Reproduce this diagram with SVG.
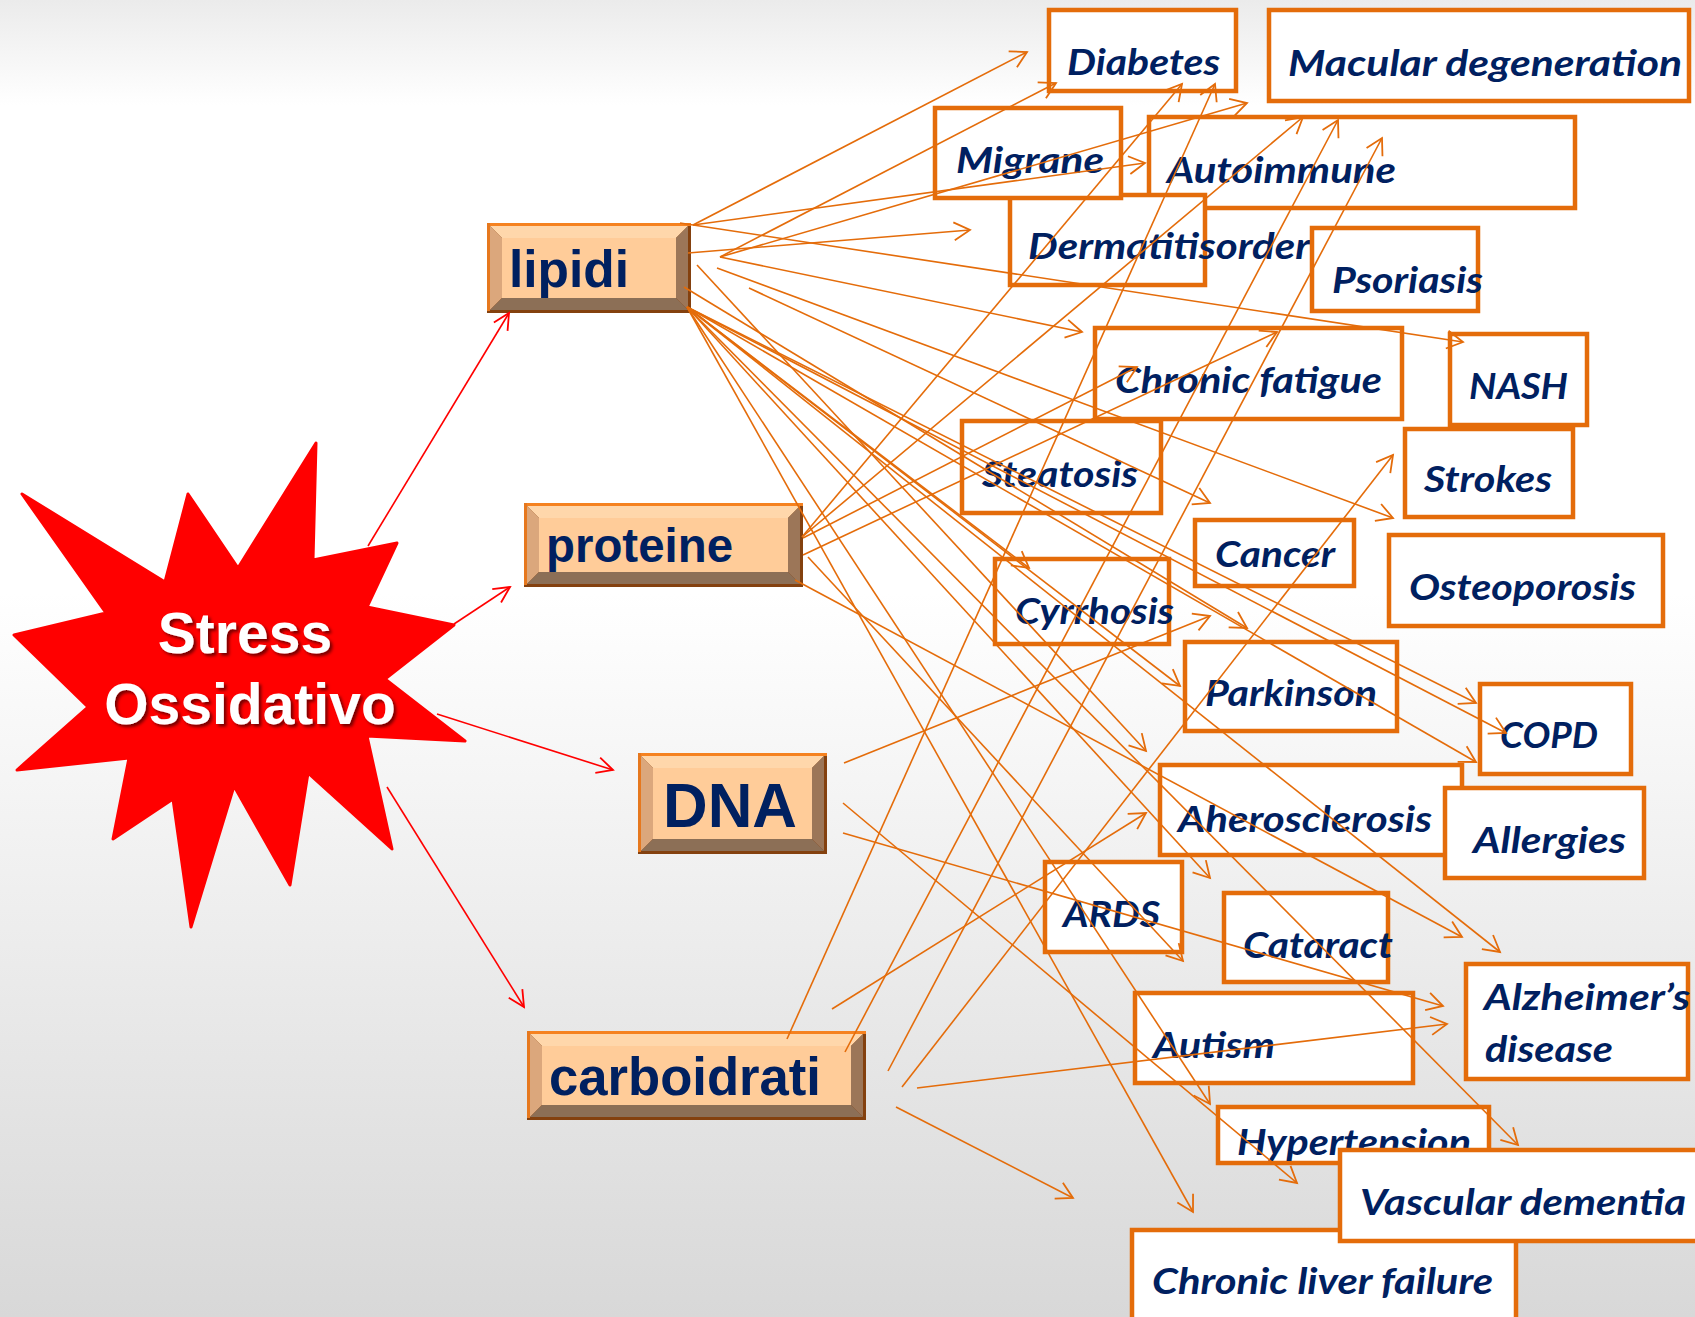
<svg xmlns="http://www.w3.org/2000/svg" width="1695" height="1317" viewBox="0 0 1695 1317">
<defs>
<linearGradient id="bg" x1="0" y1="0" x2="0" y2="1">
<stop offset="0" stop-color="#ebebeb"/>
<stop offset="0.08" stop-color="#ffffff"/>
<stop offset="0.45" stop-color="#ffffff"/>
<stop offset="1" stop-color="#d8d8d8"/>
</linearGradient>
<filter id="sh" x="-10%" y="-10%" width="130%" height="140%">
<feDropShadow dx="2.5" dy="2.5" stdDeviation="1.5" flood-color="#000000" flood-opacity="0.55"/>
</filter>
<marker id="ao" viewBox="-20 -12 24 24" refX="0" refY="0" markerWidth="24" markerHeight="24" markerUnits="userSpaceOnUse" orient="auto">
<path d="M-16,-9 L0,0 L-16,9" fill="none" stroke="#e46c0a" stroke-width="1.8"/>
</marker>
<marker id="ar" viewBox="-20 -12 24 24" refX="0" refY="0" markerWidth="24" markerHeight="24" markerUnits="userSpaceOnUse" orient="auto">
<path d="M-16,-8 L0,0 L-16,8" fill="none" stroke="#ff0000" stroke-width="1.8"/>
</marker>
<style>
.dbox rect{fill:#ffffff;stroke:#e46c0a;stroke-width:4.5}
.dt{font-family:Lato,"Open Sans","DejaVu Sans",sans-serif;font-weight:700;font-style:italic;font-size:37px;fill:#002060}
.st{font-family:"Liberation Sans",Arial,sans-serif;font-weight:700;fill:#002060}
.star-t{font-family:"Liberation Sans",Arial,sans-serif;font-weight:700;font-size:57px;fill:#ffffff;text-anchor:middle}
.bo{fill:#84410f}
.bt{fill:#f58220}
.bl{fill:#e6781e}
.vt{fill:#ffd7ab}
.vl{fill:#dba77c}
.vr{fill:#9c7658}
.vb{fill:#8c6f56}
.fc{fill:#ffcc99}
.conn line{stroke:#e46c0a;stroke-width:1.6;marker-end:url(#ao)}
.red line{stroke:#ff0000;stroke-width:1.6;marker-end:url(#ar)}
</style>
</defs>
<rect x="0" y="0" width="1695" height="1317" fill="url(#bg)"/>

<g id="stress">
<polygon points="316,443 313,560 397,543 367,607 454,625 385,679 465,741 367,736 392,849 308,773 290,885 234,786 191,927 173,799 113,839 129,758 17,770 88,707 14,635 106,613 22,494 165,582 188,494 238,568" fill="#ff0000" stroke="#ff0000" stroke-width="3" stroke-linejoin="round"/>
<g filter="url(#sh)">
<text class="star-t" x="245" y="653">Stress</text>
<text class="star-t" x="250" y="724">Ossidativo</text>
</g>
</g>

<g id="lipidi" transform="translate(487,223)">
<rect class="bo" x="0" y="0" width="204" height="90"/>
<rect class="bt" x="0" y="0" width="204" height="3"/>
<rect class="bl" x="0" y="0" width="3" height="88"/>
<polygon class="vt" points="3,3 201,3 189,15 15,15"/>
<polygon class="vl" points="3,3 15,15 15,75 3,87"/>
<polygon class="vr" points="201,3 201,87 189,75 189,15"/>
<polygon class="vb" points="3,87 201,87 189,75 15,75"/>
<rect class="fc" x="15" y="15" width="174" height="60"/>
<text class="st" x="22" y="64" font-size="52" textLength="120" lengthAdjust="spacingAndGlyphs">lipidi</text>
</g>

<g id="proteine" transform="translate(524,503)">
<rect class="bo" x="0" y="0" width="279" height="84"/>
<rect class="bt" x="0" y="0" width="279" height="3"/>
<rect class="bl" x="0" y="0" width="3" height="82"/>
<polygon class="vt" points="3,3 276,3 264,15 15,15"/>
<polygon class="vl" points="3,3 15,15 15,69 3,81"/>
<polygon class="vr" points="276,3 276,81 264,69 264,15"/>
<polygon class="vb" points="3,81 276,81 264,69 15,69"/>
<rect class="fc" x="15" y="15" width="249" height="54"/>
<text class="st" x="22" y="59" font-size="48" textLength="187" lengthAdjust="spacingAndGlyphs">proteine</text>
</g>

<g id="dna" transform="translate(638,753)">
<rect class="bo" x="0" y="0" width="189" height="101"/>
<rect class="bt" x="0" y="0" width="189" height="3"/>
<rect class="bl" x="0" y="0" width="3" height="99"/>
<polygon class="vt" points="3,3 186,3 174,15 15,15"/>
<polygon class="vl" points="3,3 15,15 15,86 3,98"/>
<polygon class="vr" points="186,3 186,98 174,86 174,15"/>
<polygon class="vb" points="3,98 186,98 174,86 15,86"/>
<rect class="fc" x="15" y="15" width="159" height="71"/>
<text class="st" x="25" y="74" font-size="63" textLength="134" lengthAdjust="spacingAndGlyphs">DNA</text>
</g>

<g id="carboidrati" transform="translate(527,1031)">
<rect class="bo" x="0" y="0" width="339" height="89"/>
<rect class="bt" x="0" y="0" width="339" height="3"/>
<rect class="bl" x="0" y="0" width="3" height="87"/>
<polygon class="vt" points="3,3 336,3 324,15 15,15"/>
<polygon class="vl" points="3,3 15,15 15,74 3,86"/>
<polygon class="vr" points="336,3 336,86 324,74 324,15"/>
<polygon class="vb" points="3,86 336,86 324,74 15,74"/>
<rect class="fc" x="15" y="15" width="309" height="59"/>
<text class="st" x="22" y="64" font-size="53" textLength="272" lengthAdjust="spacingAndGlyphs">carboidrati</text>
</g>

<g id="diabetes" class="dbox"><rect x="1049" y="10" width="187" height="81"/><text class="dt" x="1067" y="75" textLength="153" lengthAdjust="spacingAndGlyphs">Diabetes</text></g>
<g id="macular" class="dbox"><rect x="1269" y="10" width="420" height="91"/><text class="dt" x="1288" y="76" textLength="394" lengthAdjust="spacingAndGlyphs">Macular degeneration</text></g>
<g id="autoimmune" class="dbox"><rect x="1149" y="117" width="426" height="91"/><text class="dt" x="1167" y="183" textLength="229" lengthAdjust="spacingAndGlyphs">Autoimmune</text></g>
<g id="dermatitis" class="dbox"><rect x="1010" y="195" width="195" height="90"/><text class="dt" x="1028" y="259" textLength="282" lengthAdjust="spacingAndGlyphs">Dermatitisorder</text></g>
<g id="migrane" class="dbox"><rect x="935" y="108" width="186" height="90"/><text class="dt" x="956" y="173" textLength="148" lengthAdjust="spacingAndGlyphs">Migrane</text></g>
<g id="psoriasis" class="dbox"><rect x="1312" y="228" width="166" height="83"/><text class="dt" x="1332" y="293" textLength="151" lengthAdjust="spacingAndGlyphs">Psoriasis</text></g>
<g id="chronic-fatigue" class="dbox"><rect x="1095" y="328" width="307" height="91"/><text class="dt" x="1115" y="393" textLength="267" lengthAdjust="spacingAndGlyphs">Chronic fatigue</text></g>
<g id="nash" class="dbox"><rect x="1450" y="334" width="137" height="91"/><text class="dt" x="1469" y="399" textLength="99" lengthAdjust="spacingAndGlyphs">NASH</text></g>
<g id="strokes" class="dbox"><rect x="1405" y="429" width="168" height="88"/><text class="dt" x="1424" y="492" textLength="128" lengthAdjust="spacingAndGlyphs">Strokes</text></g>
<g id="steatosis" class="dbox"><rect x="962" y="421" width="199" height="92"/><text class="dt" x="982" y="487" textLength="156" lengthAdjust="spacingAndGlyphs">Steatosis</text></g>
<g id="cancer" class="dbox"><rect x="1195" y="520" width="159" height="66"/><text class="dt" x="1215" y="567" textLength="120" lengthAdjust="spacingAndGlyphs">Cancer</text></g>
<g id="osteoporosis" class="dbox"><rect x="1389" y="535" width="274" height="91"/><text class="dt" x="1409" y="600" textLength="227" lengthAdjust="spacingAndGlyphs">Osteoporosis</text></g>
<g id="cyrrhosis" class="dbox"><rect x="995" y="559" width="174" height="85"/><text class="dt" x="1015" y="624" textLength="159" lengthAdjust="spacingAndGlyphs">Cyrrhosis</text></g>
<g id="parkinson" class="dbox"><rect x="1185" y="642" width="212" height="89"/><text class="dt" x="1205" y="706" textLength="172" lengthAdjust="spacingAndGlyphs">Parkinson</text></g>
<g id="copd" class="dbox"><rect x="1480" y="684" width="151" height="90"/><text class="dt" x="1500" y="748" textLength="98" lengthAdjust="spacingAndGlyphs">COPD</text></g>
<g id="aherosclerosis" class="dbox"><rect x="1160" y="765" width="302" height="90"/><text class="dt" x="1178" y="832" textLength="254" lengthAdjust="spacingAndGlyphs">Aherosclerosis</text></g>
<g id="allergies" class="dbox"><rect x="1445" y="788" width="199" height="90"/><text class="dt" x="1473" y="853" textLength="153" lengthAdjust="spacingAndGlyphs">Allergies</text></g>
<g id="ards" class="dbox"><rect x="1045" y="862" width="137" height="90"/><text class="dt" x="1063" y="927" textLength="97" lengthAdjust="spacingAndGlyphs">ARDS</text></g>
<g id="cataract" class="dbox"><rect x="1224" y="893" width="164" height="89"/><text class="dt" x="1243" y="958" textLength="150" lengthAdjust="spacingAndGlyphs">Cataract</text></g>
<g id="autism" class="dbox"><rect x="1135" y="993" width="278" height="90"/><text class="dt" x="1153" y="1058" textLength="122" lengthAdjust="spacingAndGlyphs">Autism</text></g>
<g id="alzheimer" class="dbox"><rect x="1466" y="964" width="222" height="115"/><text class="dt" x="1484" y="1010" textLength="206" lengthAdjust="spacingAndGlyphs">Alzheimer’s</text><text class="dt" x="1485" y="1062" textLength="128" lengthAdjust="spacingAndGlyphs">disease</text></g>
<g id="hypertension" class="dbox"><rect x="1218" y="1107" width="271" height="56"/><text class="dt" x="1237" y="1155" textLength="234" lengthAdjust="spacingAndGlyphs">Hypertension</text></g>
<g id="chronic-liver" class="dbox"><rect x="1132" y="1230" width="384" height="100"/><text class="dt" x="1152" y="1294" textLength="341" lengthAdjust="spacingAndGlyphs">Chronic liver failure</text></g>
<g id="vascular" class="dbox"><rect x="1340" y="1150" width="362" height="91"/><text class="dt" x="1360" y="1215" textLength="326" lengthAdjust="spacingAndGlyphs">Vascular dementia</text></g>

<g id="connectors">
<g class="red">
<line x1="368" y1="546" x2="509" y2="313"/>
<line x1="454" y1="624" x2="510" y2="587"/>
<line x1="437" y1="714" x2="613" y2="770"/>
<line x1="387" y1="787" x2="524" y2="1007"/>
</g>
<g class="conn">
<line x1="693" y1="225" x2="1027" y2="52"/>
<line x1="720" y1="257" x2="1056" y2="83"/>
<line x1="693" y1="225" x2="1145" y2="163"/>
<line x1="688" y1="253" x2="970" y2="230"/>
<line x1="720" y1="257" x2="1082" y2="332"/>
<line x1="720" y1="257" x2="1247" y2="103"/>
<line x1="680" y1="223" x2="1463" y2="342"/>
<line x1="717" y1="268" x2="1393" y2="518"/>
<line x1="749" y1="288" x2="1210" y2="503"/>
<line x1="684" y1="287" x2="1247" y2="628"/>
<line x1="687" y1="307" x2="1180" y2="686"/>
<line x1="697" y1="265" x2="1146" y2="751"/>
<line x1="687" y1="307" x2="1476" y2="703"/>
<line x1="687" y1="307" x2="1506" y2="733"/>
<line x1="687" y1="307" x2="1476" y2="762"/>
<line x1="687" y1="307" x2="1210" y2="878"/>
<line x1="687" y1="307" x2="1193" y2="1212"/>
<line x1="687" y1="307" x2="1210" y2="1104"/>
<line x1="687" y1="307" x2="1500" y2="952"/>
<line x1="687" y1="307" x2="1518" y2="1145"/>
<line x1="687" y1="307" x2="1029" y2="568"/>
<line x1="802" y1="537" x2="1182" y2="84"/>
<line x1="802" y1="537" x2="1303" y2="117"/>
<line x1="803" y1="538" x2="1137" y2="367"/>
<line x1="803" y1="555" x2="1277" y2="332"/>
<line x1="808" y1="557" x2="1183" y2="961"/>
<line x1="795" y1="580" x2="1462" y2="937"/>
<line x1="844" y1="763" x2="1210" y2="616"/>
<line x1="843" y1="803" x2="1297" y2="1183"/>
<line x1="843" y1="833" x2="1443" y2="1006"/>
<line x1="787" y1="1039" x2="1215" y2="84"/>
<line x1="845" y1="1052" x2="1338" y2="120"/>
<line x1="888" y1="1071" x2="1382" y2="138"/>
<line x1="902" y1="1087" x2="1393" y2="455"/>
<line x1="832" y1="1009" x2="1146" y2="813"/>
<line x1="917" y1="1088" x2="1447" y2="1024"/>
<line x1="896" y1="1107" x2="1073" y2="1198"/>
</g>
</g>
</svg>
